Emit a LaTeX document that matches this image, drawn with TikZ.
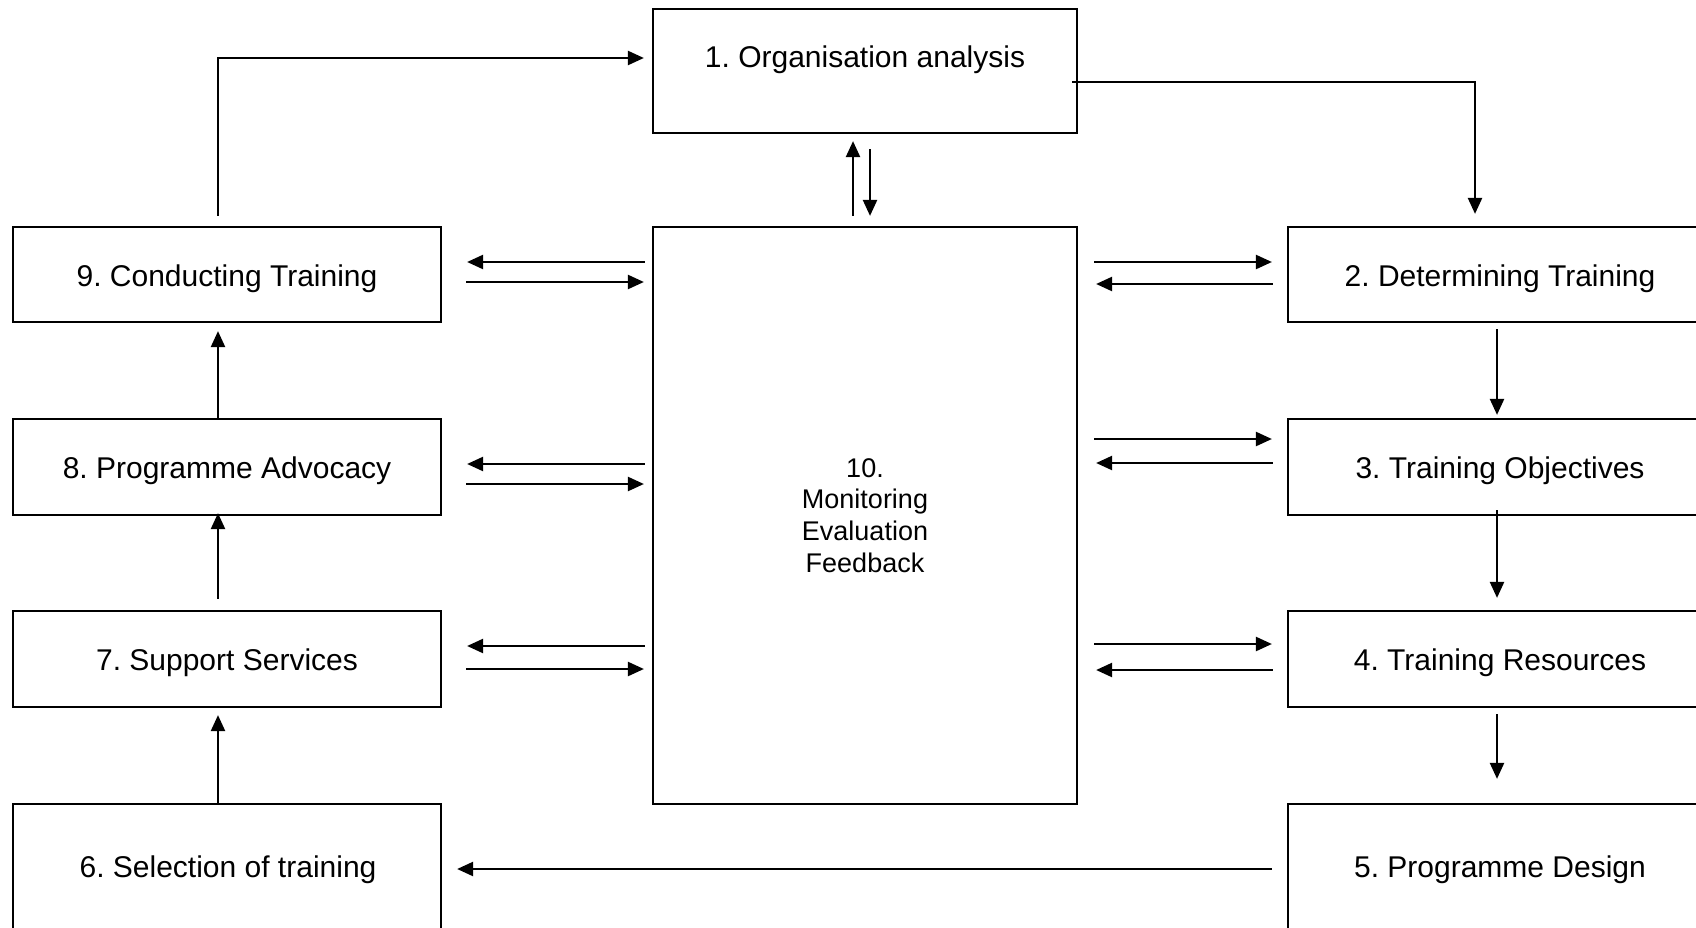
\documentclass[tikz,border=0pt]{standalone}
\usepackage{fontspec}
\setmainfont{Liberation Sans}
\usetikzlibrary{arrows.meta,calc}
\frenchspacing
\begin{document}
\begin{tikzpicture}[x=1pt,y=-1pt,
  box/.style={draw, line width=2.2pt, inner sep=0pt, font=\fontsize{30}{36}\selectfont\frenchspacing,
    text height=29.5pt, text depth=6.3pt},
  plainbox/.style={draw, line width=2.2pt, inner sep=0pt},
  txt/.style={font=\fontsize{30}{36}\selectfont\frenchspacing, inner sep=0pt},
  ctxt/.style={font=\fontsize{27}{31.8}\selectfont, inner sep=0pt, align=center},
  arr/.style={line width=2.3pt, -{Triangle[length=16pt,width=14pt]}}]
\useasboundingbox (0,0) rectangle (1696,928);
\clip (0,0) rectangle (1696,928);
\fill[white] (0,0) rectangle (1696,928);

% boxes
\node[plainbox, minimum width=424pt, minimum height=124pt] (b1) at (865,71) {};
\node[txt] (t1) at (865,59.5) {1. Organisation analysis};
\node[plainbox, minimum width=424pt, minimum height=577pt] (b10) at (865,515.5) {};
\node[ctxt] (t10) at (865,515.5) {10.\\Monitoring\\Evaluation\\Feedback};

\node[box, minimum width=428pt, minimum height=95pt] (b9) at (227,274.5) {9. Conducting Training};
\node[box, minimum width=428pt, minimum height=96pt] (b8) at (227,467) {8. Programme Advocacy};
\node[box, minimum width=428pt, minimum height=96pt] (b7) at (227,659) {7. Support Services};
\node[plainbox, minimum width=428pt, minimum height=150pt] (b6) at (227,879) {};
\node[txt] (t6) at (228,870) {6. Selection of training};

\node[box, minimum width=424pt, minimum height=95pt] (b2) at (1500,274.5) {2. Determining Training};
\node[box, minimum width=424pt, minimum height=96pt] (b3) at (1500,467) {3. Training Objectives};
\node[box, minimum width=424pt, minimum height=96pt] (b4) at (1500,659) {4. Training Resources};
\node[plainbox, minimum width=424pt, minimum height=150pt] (b5) at (1500,879) {};
\node[txt] (t5) at (1500,870) {5. Programme Design};

% top loop
\draw[arr] ($(b9.north)+(-9,-10)$) |- ($(b1.west)+(-8,-13)$);
\draw[arr] ($(b1.east)+(-6,11)$) -| ($(b2.north)+(-25,-12)$);
\draw[arr] ($(b10.north)+(-12,-10)$) -- ($(b1.south)+(-12,7)$);
\draw[arr] ($(b1.south)+(5,15)$) -- ($(b10.north)+(5,-10)$);

% left rows
\draw[arr] ($(b9.east -| b10.west)+(-7,-12.5)$) -- ($(b9.east)+(25,-12.5)$);
\draw[arr] ($(b9.east)+(24,7.5)$) -- ($(b9.east -| b10.west)+(-8,7.5)$);
\draw[arr] ($(b8.east -| b10.west)+(-7,-3)$) -- ($(b8.east)+(25,-3)$);
\draw[arr] ($(b8.east)+(24,17)$) -- ($(b8.east -| b10.west)+(-8,17)$);
\draw[arr] ($(b7.east -| b10.west)+(-7,-13)$) -- ($(b7.east)+(25,-13)$);
\draw[arr] ($(b7.east)+(24,10)$) -- ($(b7.east -| b10.west)+(-8,10)$);

% right rows
\draw[arr] ($(b2.west -| b10.east)+(16,-12.5)$) -- ($(b2.west)+(-15,-12.5)$);
\draw[arr] ($(b2.west)+(-14,9.5)$) -- ($(b2.west -| b10.east)+(18,9.5)$);
\draw[arr] ($(b3.west -| b10.east)+(16,-28)$) -- ($(b3.west)+(-15,-28)$);
\draw[arr] ($(b3.west)+(-14,-4)$) -- ($(b3.west -| b10.east)+(18,-4)$);
\draw[arr] ($(b4.west -| b10.east)+(16,-15)$) -- ($(b4.west)+(-15,-15)$);
\draw[arr] ($(b4.west)+(-14,11)$) -- ($(b4.west -| b10.east)+(18,11)$);

% right column down
\draw[arr] ($(b2.south)+(-3,6)$) -- ($(b3.north)+(-3,-3)$);
\draw[arr] ($(b3.south)+(-3,-6)$) -- ($(b4.north)+(-3,-12)$);
\draw[arr] ($(b4.south)+(-3,6)$) -- ($(b5.north)+(-3,-24)$);

% bottom
\draw[arr] ($(b5.west)+(-15,-10)$) -- ($(b6.east |- b5.west)+(15,-10)$);

% left column up
\draw[arr] ($(b6.north)+(-9,0)$) -- ($(b7.south)+(-9,7)$);
\draw[arr] ($(b7.north)+(-9,-11)$) -- ($(b8.south)+(-9,-3)$);
\draw[arr] ($(b8.north)+(-9,0)$) -- ($(b9.south)+(-9,8)$);
\end{tikzpicture}
\end{document}
